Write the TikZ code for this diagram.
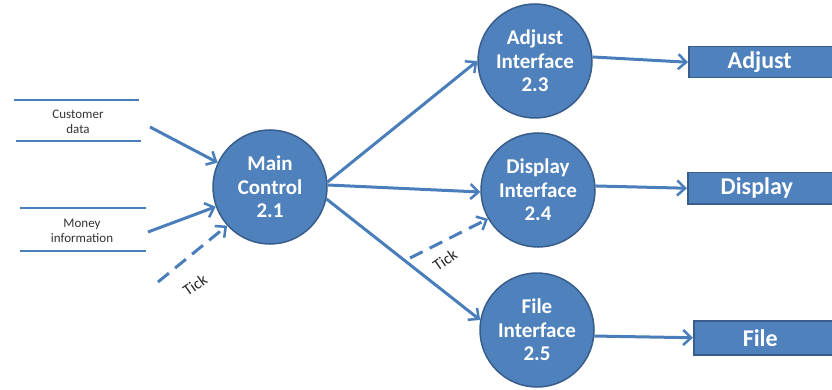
\documentclass[tikz,border=0pt]{standalone}
\usepackage{fontspec}
\setmainfont{Carlito}
\usetikzlibrary{arrows.meta}
\definecolor{blfill}{HTML}{4F81BD}
\definecolor{bldraw}{HTML}{385D8A}
\definecolor{blline}{HTML}{4A7EBB}
\tikzset{
  proc/.style={circle, fill=blfill, draw=bldraw, line width=1.5pt, minimum size=114pt, inner sep=0pt,
    text=white, font=\fontsize{21}{23.5}\selectfont\bfseries, align=center},
  outbox/.style={rectangle, fill=blfill, draw=bldraw, line width=1.5pt, anchor=north west, inner sep=0pt,
    text=white, font=\fontsize{24}{26}\selectfont\bfseries},
  flow/.style={draw=blline, line width=3pt, -{Straight Barb[length=8pt,width=15pt,line width=2.5pt]}},
  tickflow/.style={flow, dash pattern=on 14pt off 8pt},
  storeline/.style={draw=blline, line width=2.5pt},
  storetext/.style={font=\fontsize{13}{15}\selectfont, text=black!80, align=center},
  ticktext/.style={font=\fontsize{16}{18}\selectfont, text=black!85, rotate=35, inner sep=1pt}
}
\begin{document}
\begin{tikzpicture}[x=1pt,y=-1pt]
\useasboundingbox (0,0) rectangle (832,390);
% processes
\node[proc] (main) at (270,187) {Main\\Control\\2.1};
\node[proc] (adj) at (535,61) {Adjust\\Interface\\2.3};
\node[proc] (disp) at (538,190) {Display\\Interface\\2.4};
\node[proc] (file) at (537,330) {File\\Interface\\2.5};
% output boxes
\node[outbox, minimum width=150pt, minimum height=31pt] (badj) at (688,46) {\hspace*{-8pt}Adjust};
\node[outbox, minimum width=150pt, minimum height=31pt] (bdisp) at (687,172) {\hspace*{-12pt}Display};
\node[outbox, minimum width=145pt, minimum height=34pt] (bfile) at (693,320) {\hspace*{-12pt}File};
% data stores
\coordinate (c1a) at (14,100); \coordinate (c1b) at (139,100);
\coordinate (c2a) at (16,141); \coordinate (c2b) at (141,141);
\draw[storeline] (c1a) -- (c1b);
\draw[storeline] (c2a) -- (c2b);
\node[storetext] (cust) at (78,122) {Customer\\data};
\coordinate (m1a) at (20,208); \coordinate (m1b) at (146,208);
\coordinate (m2a) at (20,251); \coordinate (m2b) at (146,251);
\draw[storeline] (m1a) -- (m1b);
\draw[storeline] (m2a) -- (m2b);
\node[storetext] (money) at (82,231) {Money\\information};
% flows into main
\coordinate (cs) at (150,127);
\coordinate (ms) at (148,232);
\coordinate (ts1) at (158,282);
\draw[flow] (cs) -- (main.155);
\draw[flow] (ms) -- (main.200);
\draw[tickflow] (ts1) -- (main.222);
\node[ticktext] (tick1) at (195,285) {Tick};
% flows out of main
\draw[flow] (main.5) -- (adj.180);
\draw[flow] (main.2) -- (disp.182);
\draw[flow] (main.-12) -- (file.170);
\coordinate (ts2) at (410,258);
\draw[tickflow] (ts2) -- (disp.210);
\node[ticktext] (tick2) at (445,260) {Tick};
% flows to boxes
\draw[flow] (adj.4) -- (badj.west);
\draw[flow] (disp.4) -- (bdisp.west);
\draw[flow] (file.-6) -- (bfile.west);
\end{tikzpicture}
\end{document}
